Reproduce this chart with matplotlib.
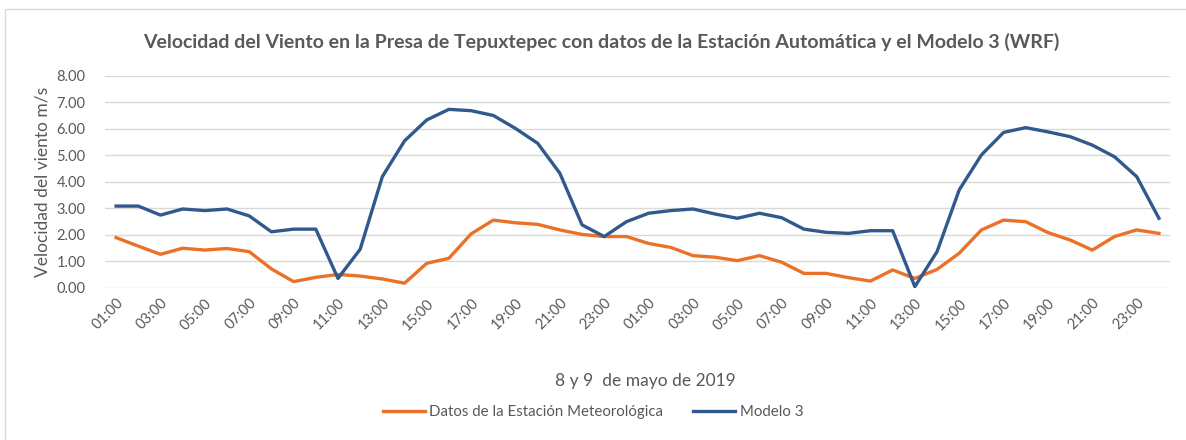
import numpy as np
import matplotlib.pyplot as plt
from matplotlib.patches import Rectangle

# hourly readings, 8 and 9 May 2019 (48 hours)
horas = ['%02d:00' % (h % 24 if h % 24 else 24) for h in range(1, 49)]
estacion = [1.89, 1.57, 1.26, 1.49, 1.42, 1.48, 1.36, 0.71, 0.23, 0.39, 0.50, 0.44,
            0.33, 0.17, 0.92, 1.11, 2.03, 2.55, 2.45, 2.39, 2.18, 2.01, 1.93, 1.93,
            1.67, 1.52, 1.21, 1.15, 1.02, 1.21, 0.96, 0.54, 0.54, 0.38, 0.25, 0.67,
            0.35, 0.69, 1.30, 2.18, 2.55, 2.49, 2.08, 1.80, 1.42, 1.93, 2.18, 2.05]
modelo3 = [3.08, 3.08, 2.74, 2.97, 2.91, 2.97, 2.71, 2.11, 2.21, 2.21, 0.35, 1.45,
           4.19, 5.54, 6.33, 6.73, 6.68, 6.50, 6.01, 5.45, 4.32, 2.37, 1.93, 2.49,
           2.81, 2.91, 2.97, 2.78, 2.62, 2.81, 2.64, 2.21, 2.09, 2.05, 2.15, 2.15,
           0.04, 1.36, 3.69, 5.01, 5.86, 6.04, 5.88, 5.70, 5.38, 4.94, 4.19, 2.62]
yticks = [0, 1, 2, 3, 4, 5, 6, 7, 8]

gris = '#595959'
plt.rcParams['font.family'] = ['Lato', 'DejaVu Sans']

fig = plt.figure(figsize=(11.86, 4.40), dpi=100)
fig.patches.append(Rectangle((5 / 1186, -0.05), 1.1, 1.0 - 9 / 440 + 0.05,
                             transform=fig.transFigure, fill=False,
                             edgecolor='#D9D9D9', linewidth=1.0))

ax = fig.add_axes([105 / 1186, 1 - 287.7 / 440, 1065 / 1186, 212 / 440])
x = np.arange(len(horas))
ax.plot(x, estacion, color='#EA7125', lw=2.4, solid_joinstyle='round',
        label='Datos de la Estación Meteorológica', zorder=3)
ax.plot(x, modelo3, color='#31598C', lw=2.4, solid_joinstyle='round',
        label='Modelo 3', zorder=3)

ax.set_xlim(-0.5, len(horas) - 0.5)
ax.set_ylim(0, 8)
ax.set_yticks(yticks)
ax.set_yticklabels(['%.2f' % v for v in yticks])
ax.grid(axis='y', color='#D9D9D9', lw=1.0)
ax.set_axisbelow(True)
for s in ax.spines.values():
    s.set_visible(False)
ax.tick_params(length=0, colors=gris, labelsize=10.5)
ax.tick_params(axis='y', pad=14)

ax.set_xticks(x[::2])
ax.set_xticklabels(horas[::2], rotation=45, ha='right', va='top',
                   rotation_mode='anchor')
ax.tick_params(axis='x', pad=6)

ax.set_ylabel('Velocidad del viento m/s', color=gris, fontsize=12.5, labelpad=4)
fig.text(645 / 1186, 1 - 381 / 440, '8 y 9  de mayo de 2019', color=gris,
         fontsize=12.5, ha='center', va='center')
fig.text(601 / 1186, 1 - 42 / 440,
         'Velocidad del Viento en la Presa de Tepuxtepec con datos de la Estación Automática y el Modelo 3 (WRF)',
         color=gris, fontsize=14, fontweight='bold', ha='center', va='center')

fig.legend(loc='center', bbox_to_anchor=(593 / 1186, 1 - 412 / 440), ncol=2,
           frameon=False, fontsize=10.8, labelcolor=gris, handlelength=2.8,
           handletextpad=0.3, columnspacing=2.0)

fig.savefig('out.png', dpi=100)
